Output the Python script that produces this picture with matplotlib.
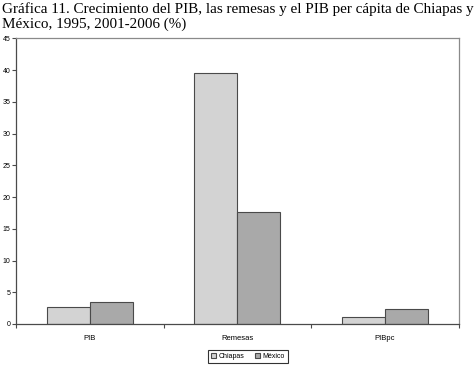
import numpy as np
import matplotlib.pyplot as plt

# datos
categorias = ["PIB", "Remesas", "PIBpc"]
chiapas = [2.6, 39.5, 1.1]
mexico = [3.5, 17.6, 2.35]
yticks = [0, 5, 10, 15, 20, 25, 30, 35, 40, 45]

fig = plt.figure(figsize=(4.76, 3.69), dpi=100)
ax = fig.add_axes([16/476, 1-324/369, (458.5-16)/476, (324-38.3)/369])

x = np.arange(len(categorias))
w = 0.29
ax.bar(x - w/2, chiapas, w, color="#d3d3d3", edgecolor="#4a4a4a", linewidth=0.8, label="Chiapas")
ax.bar(x + w/2, mexico, w, color="#a9a9a9", edgecolor="#4a4a4a", linewidth=0.8, label="México")

ax.set_xlim(-0.5, 2.5)
ax.set_ylim(0, 45)
ax.set_yticks(yticks)
ax.set_xticks(x)
ax.set_xticklabels(categorias)
ax.set_xticks([-0.5, 0.5, 1.5, 2.5], minor=True)
ax.tick_params(axis="x", which="major", length=0, pad=8, labelsize=5.5)
ax.tick_params(axis="x", which="minor", length=3, width=0.8, color="#4a4a4a")
ax.tick_params(axis="y", length=3, width=0.8, color="#4a4a4a", labelsize=5, pad=1)
for lbl in ax.get_xticklabels() + ax.get_yticklabels():
    lbl.set_family("Liberation Sans")

for s in ["left", "bottom"]:
    ax.spines[s].set_color("#4a4a4a")
    ax.spines[s].set_linewidth(0.9)
for s in ["top", "right"]:
    ax.spines[s].set_color("#8a8a8a")
    ax.spines[s].set_linewidth(0.9)

fig.text(2/476, 1-2/369,
         "Gráfica 11. Crecimiento del PIB, las remesas y el PIB per cápita de Chiapas y\nMéxico, 1995, 2001-2006 (%)",
         ha="left", va="top", fontsize=10.9, family="Liberation Serif", linespacing=1.12)

leg = fig.legend(loc="center", bbox_to_anchor=(248/476, 1-356.7/369), ncol=2,
                 frameon=True, fancybox=False, edgecolor="black",
                 handlelength=0.7, handleheight=0.7, handletextpad=0.4,
                 columnspacing=1.5, borderpad=0.4, prop={"family": "Liberation Sans", "size": 5})
leg.get_frame().set_linewidth(0.8)

fig.savefig("out.png", dpi=100)
